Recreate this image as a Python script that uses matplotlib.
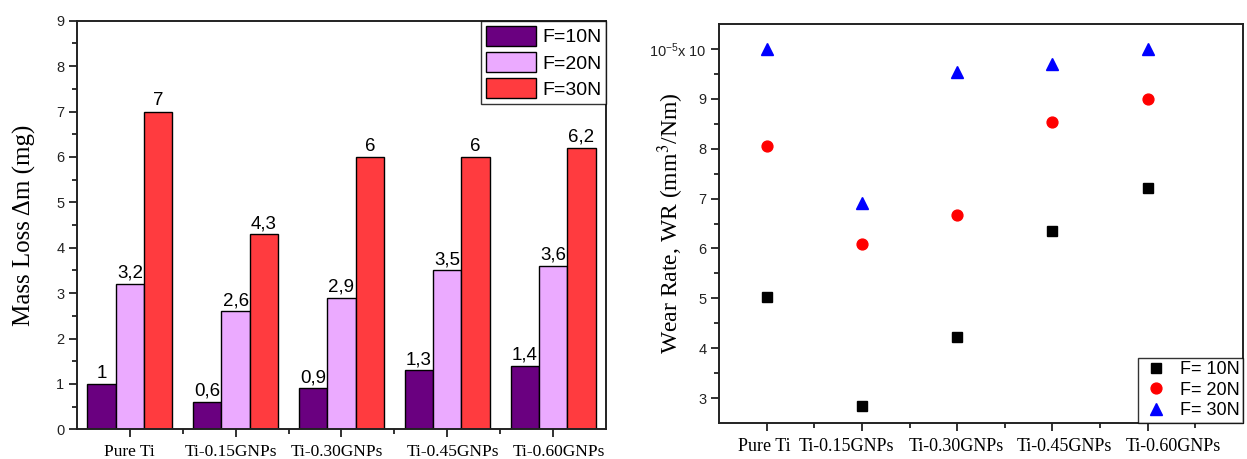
import numpy as np
import matplotlib.pyplot as plt
import matplotlib.transforms as mtransforms
from matplotlib.ticker import MultipleLocator, FixedLocator

# Data
categories = ['Pure Ti', 'Ti-0.15GNPs', 'Ti-0.30GNPs', 'Ti-0.45GNPs', 'Ti-0.60GNPs']
loads = ['F=10N', 'F=20N', 'F=30N']
mass_10 = [1.0, 0.6, 0.9, 1.3, 1.4]
mass_20 = [3.2, 2.6, 2.9, 3.5, 3.6]
mass_30 = [7.0, 4.3, 6.0, 6.0, 6.2]
wear_10 = [5.02, 2.85, 4.22, 6.35, 7.21]
wear_20 = [8.05, 6.09, 6.68, 8.53, 9.0]
wear_30 = [10.0, 6.91, 9.54, 9.70, 10.0]
wear_labels = ['F= 10N', 'F= 20N', 'F= 30N']
wear_ticks = [3, 4, 5, 6, 7, 8, 9, 10]
wear_ticklabels = ['3', '4', '5', '6', '7', '8', '9', '10$^{-5}$x 10']

# category labels in the original are nudged sideways (in points)
left_label_shift = [0, -3.6, -3.6, 4.3, 4.3]
right_label_shift = [-1.4, -10.8, -0.7, 8.6, 18.7]

sans = 'Liberation Sans'
serif = 'Liberation Serif'
plt.rcParams['mathtext.fontset'] = 'custom'
plt.rcParams['mathtext.rm'] = sans
plt.rcParams['mathtext.it'] = sans + ':italic'

fig = plt.figure(figsize=(12.47, 4.59), dpi=100)
ax1 = fig.add_axes([0.0617, 0.0647, 0.4243, 0.89])
ax2 = fig.add_axes([0.5766, 0.0784, 0.4202, 0.8693])

# ---- left: bar chart of mass loss
x = np.arange(len(categories))
w = 0.268
bar_colors = ['#6a0080', '#ebaaff', '#ff3b3f']
for i, (vals, col, lab) in enumerate(zip([mass_10, mass_20, mass_30], bar_colors, loads)):
    bars = ax1.bar(x + (i - 1) * w, vals, w, color=col, edgecolor='black',
                   linewidth=1.0, label=lab)
    txt = [('%g' % v).replace('.', ',') for v in vals]
    ax1.bar_label(bars, labels=txt, padding=1.5, fontsize=13.5, family=sans)

ax1.set_xlim(-0.5, 4.5)
ax1.set_ylim(0, 9)
ax1.xaxis.set_major_locator(FixedLocator(x))
ax1.xaxis.set_minor_locator(FixedLocator(x[:-1] + 0.5))
ax1.set_xticklabels(categories, family=serif, fontsize=12.5)
ax1.yaxis.set_major_locator(MultipleLocator(1))
ax1.yaxis.set_minor_locator(MultipleLocator(0.5))
ax1.set_ylabel('Mass Loss \u0394m (mg)', family=serif, fontsize=18, va='center')
ax1.yaxis.set_label_coords(-0.1, 0.5)
leg1 = ax1.legend(loc='upper right', prop={'family': sans, 'size': 14},
                  frameon=True, fancybox=False, edgecolor='black',
                  borderaxespad=0.0, handlelength=2.6, handleheight=1.2,
                  handletextpad=0.3, labelspacing=0.3, borderpad=0.25)
leg1.get_frame().set_linewidth(1.0)

# ---- right: wear rate scatter
ax2.plot(x, wear_10, 's', color='black', ms=7, linestyle='none', label=wear_labels[0])
ax2.plot(x, wear_20, 'o', color='red', ms=7.8, linestyle='none', label=wear_labels[1])
ax2.plot(x, wear_30, '^', color='blue', ms=9, linestyle='none', label=wear_labels[2])

ax2.set_xlim(-0.5, 5.0)
ax2.set_ylim(2.5, 10.5)
ax2.xaxis.set_major_locator(FixedLocator(x))
ax2.xaxis.set_minor_locator(FixedLocator(x + 0.5))
ax2.set_xticklabels(categories, family=serif, fontsize=13)
ax2.yaxis.set_major_locator(FixedLocator(wear_ticks))
ax2.yaxis.set_minor_locator(FixedLocator(np.arange(3.5, 10.5, 1.0)))
ax2.set_yticklabels(wear_ticklabels)
ax2.set_ylabel('Wear Rate, WR (mm$^3$/Nm)', family=serif, fontsize=17,
               va='center', math_fontfamily='stix')
ax2.yaxis.set_label_coords(-0.092, 0.5)
leg2 = ax2.legend(loc='lower right', prop={'family': sans, 'size': 13},
                  frameon=True, fancybox=False, edgecolor='black',
                  borderaxespad=0.0, handletextpad=0.5, labelspacing=0.2,
                  borderpad=0.2, handlelength=1.6)
leg2.get_frame().set_linewidth(1.0)

for ax, shifts in ((ax1, left_label_shift), (ax2, right_label_shift)):
    for s in ax.spines.values():
        s.set_linewidth(1.4)
        s.set_color('#222222')
    ax.tick_params(which='both', direction='out', top=False, right=False,
                   color='#222222', width=1.3)
    ax.tick_params(which='major', length=6)
    ax.tick_params(which='minor', length=3.5)
    ax.tick_params(axis='y', labelsize=10.5, labelcolor='#222222', pad=3)
    for t in ax.get_yticklabels():
        t.set_family(sans)
    ax.tick_params(axis='x', pad=4.5)
    for lab, dx in zip(ax.get_xticklabels(), shifts):
        off = mtransforms.ScaledTranslation(dx / 72, 0, fig.dpi_scale_trans)
        lab.set_transform(lab.get_transform() + off)

fig.savefig('out.png', dpi=100)
